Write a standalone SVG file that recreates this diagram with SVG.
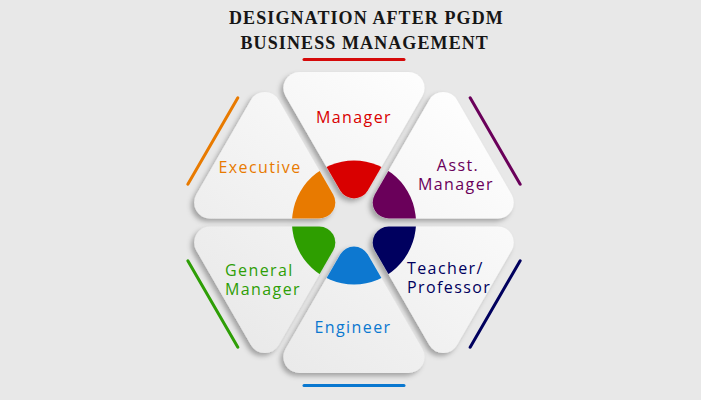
<svg xmlns="http://www.w3.org/2000/svg" xmlns:xlink="http://www.w3.org/1999/xlink" width="701" height="400" viewBox="0 0 701 400">
<style>
.title{font-family:"Liberation Serif","Times New Roman",serif;font-weight:bold;font-size:18px;letter-spacing:1.1px;fill:#161616}
.lbl{font-family:"Open Sans","Noto Sans",sans-serif;font-weight:500;font-size:16px;letter-spacing:1.4px}
.mid{text-anchor:middle}
</style>
<defs>
<path id="tri" d="M299.4,72 H408.6 A16,16 0 0 1 422.45,96 L367.85,190.5 A16,16 0 0 1 340.15,190.5 L285.55,96 A16,16 0 0 1 299.4,72 Z"/>
<clipPath id="cl"><use xlink:href="#tri"/></clipPath>
<filter id="sh" x="-20%" y="-20%" width="140%" height="140%">
<feDropShadow dx="-3" dy="3" stdDeviation="2.5" flood-color="#000" flood-opacity="0.3"/>
</filter>
<filter id="bl" x="-10%" y="-100%" width="120%" height="300%"><feGaussianBlur stdDeviation="1.5"/></filter>
<g id="acc-shadow"><line x1="305" y1="63" x2="405" y2="63" stroke="#b4b4b4" stroke-width="4" filter="url(#bl)"/></g>
<linearGradient id="g0" gradientUnits="userSpaceOnUse" x1="470" y1="80" x2="240" y2="370" gradientTransform="rotate(0 354 222.5)"><stop offset="0" stop-color="#ffffff"/><stop offset="1" stop-color="#e8e8e8"/></linearGradient>
<linearGradient id="g1" gradientUnits="userSpaceOnUse" x1="470" y1="80" x2="240" y2="370" gradientTransform="rotate(-60 354 222.5)"><stop offset="0" stop-color="#ffffff"/><stop offset="1" stop-color="#e8e8e8"/></linearGradient>
<linearGradient id="g2" gradientUnits="userSpaceOnUse" x1="470" y1="80" x2="240" y2="370" gradientTransform="rotate(-120 354 222.5)"><stop offset="0" stop-color="#ffffff"/><stop offset="1" stop-color="#e8e8e8"/></linearGradient>
<linearGradient id="g3" gradientUnits="userSpaceOnUse" x1="470" y1="80" x2="240" y2="370" gradientTransform="rotate(-180 354 222.5)"><stop offset="0" stop-color="#ffffff"/><stop offset="1" stop-color="#e8e8e8"/></linearGradient>
<linearGradient id="g4" gradientUnits="userSpaceOnUse" x1="470" y1="80" x2="240" y2="370" gradientTransform="rotate(-240 354 222.5)"><stop offset="0" stop-color="#ffffff"/><stop offset="1" stop-color="#e8e8e8"/></linearGradient>
<linearGradient id="g5" gradientUnits="userSpaceOnUse" x1="470" y1="80" x2="240" y2="370" gradientTransform="rotate(-300 354 222.5)"><stop offset="0" stop-color="#ffffff"/><stop offset="1" stop-color="#e8e8e8"/></linearGradient>
</defs>
<rect width="701" height="400" fill="#e8e8e8"/>
<g id="title">
<text class="title" x="229" y="24.3">DESIGNATION AFTER PGDM</text>
<text class="title" x="240.5" y="49">BUSINESS MANAGEMENT</text>
</g>
<g id="connectors"></g>
<g id="node-manager">
<g transform="rotate(0 354 222.5)"><use xlink:href="#acc-shadow"/><line x1="304" y1="59.5" x2="404" y2="59.5" stroke="#d50a0a" stroke-width="3" stroke-linecap="round"/></g>
<g filter="url(#sh)"><g transform="rotate(0 354 222.5)"><use xlink:href="#tri" fill="url(#g0)"/><circle cx="354" cy="222.5" r="62" fill="#d90000" clip-path="url(#cl)"/></g></g>
<text class="lbl mid" x="354" y="123" fill="#d90000">Manager</text>
</g>
<g id="node-asst-manager">
<g transform="rotate(60 354 222.5)"><use xlink:href="#acc-shadow"/><line x1="304" y1="59.5" x2="404" y2="59.5" stroke="#6a005a" stroke-width="3" stroke-linecap="round"/></g>
<g filter="url(#sh)"><g transform="rotate(60 354 222.5)"><use xlink:href="#tri" fill="url(#g1)"/><circle cx="354" cy="222.5" r="62" fill="#6a005a" clip-path="url(#cl)"/></g></g>
<text class="lbl mid" x="458" y="171" fill="#6a005a">Asst.</text>
<text class="lbl mid" x="456" y="190" fill="#6a005a">Manager</text>
</g>
<g id="node-teacher">
<g transform="rotate(120 354 222.5)"><use xlink:href="#acc-shadow"/><line x1="304" y1="59.5" x2="404" y2="59.5" stroke="#00005e" stroke-width="3" stroke-linecap="round"/></g>
<g filter="url(#sh)"><g transform="rotate(120 354 222.5)"><use xlink:href="#tri" fill="url(#g2)"/><circle cx="354" cy="222.5" r="62" fill="#00005e" clip-path="url(#cl)"/></g></g>
<text class="lbl" x="407" y="274" fill="#00005e">Teacher/</text>
<text class="lbl" x="407" y="293" fill="#00005e">Professor</text>
</g>
<g id="node-engineer">
<g transform="rotate(180 354 222.5)"><use xlink:href="#acc-shadow"/><line x1="304" y1="59.5" x2="404" y2="59.5" stroke="#0a78d0" stroke-width="3" stroke-linecap="round"/></g>
<g filter="url(#sh)"><g transform="rotate(180 354 222.5)"><use xlink:href="#tri" fill="url(#g3)"/><circle cx="354" cy="222.5" r="62" fill="#0a78d0" clip-path="url(#cl)"/></g></g>
<text class="lbl mid" x="353" y="333" fill="#0a78d0">Engineer</text>
</g>
<g id="node-general-manager">
<g transform="rotate(240 354 222.5)"><use xlink:href="#acc-shadow"/><line x1="304" y1="59.5" x2="404" y2="59.5" stroke="#2e9e06" stroke-width="3" stroke-linecap="round"/></g>
<g filter="url(#sh)"><g transform="rotate(240 354 222.5)"><use xlink:href="#tri" fill="url(#g4)"/><circle cx="354" cy="222.5" r="62" fill="#2e9e06" clip-path="url(#cl)"/></g></g>
<text class="lbl" x="225" y="276" fill="#2e9e06">General</text>
<text class="lbl" x="225" y="295" fill="#2e9e06">Manager</text>
</g>
<g id="node-executive">
<g transform="rotate(300 354 222.5)"><use xlink:href="#acc-shadow"/><line x1="304" y1="59.5" x2="404" y2="59.5" stroke="#e87a00" stroke-width="3" stroke-linecap="round"/></g>
<g filter="url(#sh)"><g transform="rotate(300 354 222.5)"><use xlink:href="#tri" fill="url(#g5)"/><circle cx="354" cy="222.5" r="62" fill="#e87a00" clip-path="url(#cl)"/></g></g>
<text class="lbl mid" x="260" y="173" fill="#e87a00">Executive</text>
</g>
</svg>
